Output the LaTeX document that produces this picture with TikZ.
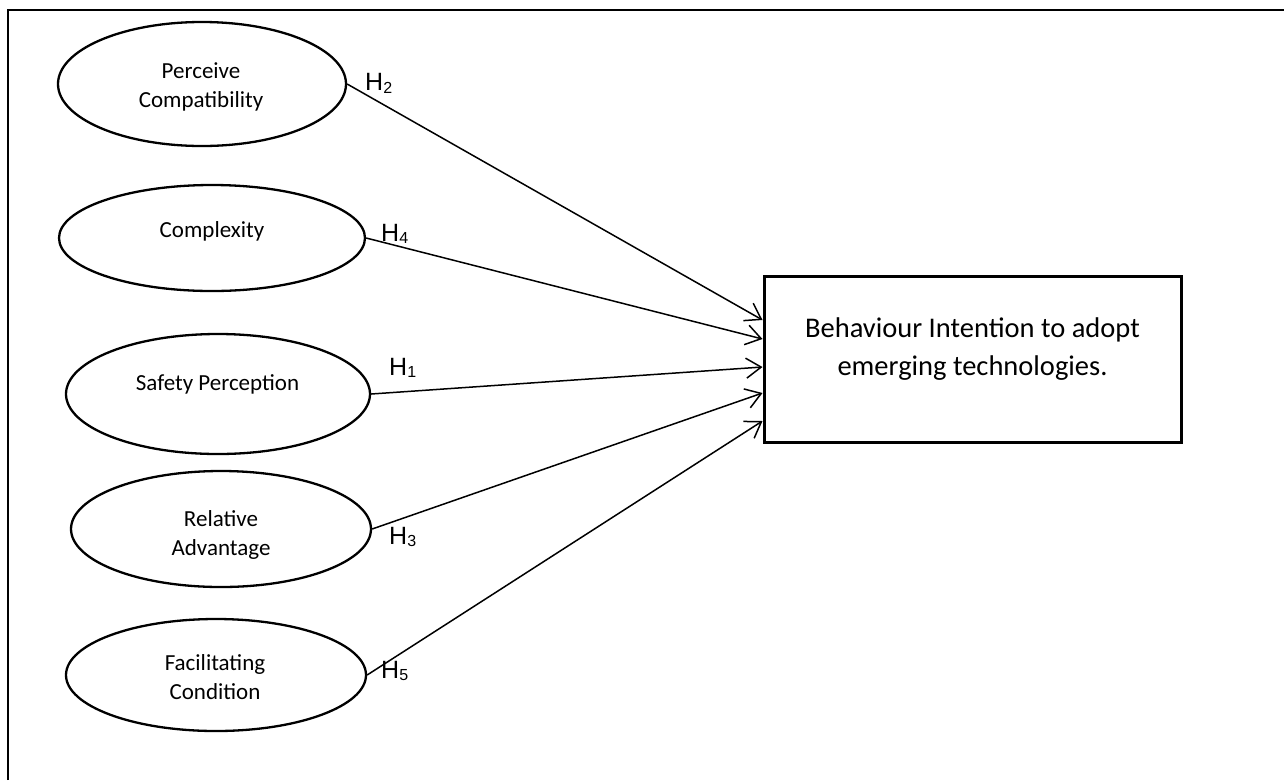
\documentclass[tikz,border=0pt]{standalone}
\usepackage{fontspec}
\setmainfont{Carlito}
\newfontfamily\hfont{Liberation Sans}
\usetikzlibrary{calc,arrows.meta,shapes.geometric}

% lowered, smaller digit after an H label
\newcommand\hsub[1]{\raisebox{-2.5pt}{\fontsize{16}{16}\selectfont #1}}

\begin{document}
\begin{tikzpicture}[x=1pt,y=-1pt,
  oval/.style={draw,ellipse,line width=2.3pt,inner sep=0pt},
  ovaltext/.style={font=\fontsize{23}{29}\selectfont,align=center,inner sep=0pt},
  boxtext/.style={font=\fontsize{28.5}{38}\selectfont,align=center,inner sep=0pt},
  hyp/.style={font=\hfont\fontsize{25}{30}\selectfont,inner sep=0pt,anchor=base west},
  link/.style={line width=1.5pt,-{Straight Barb[length=15pt,width=20pt,line width=1.5pt]}},
]
\useasboundingbox (0,0) rectangle (1284,780);

% frame along the top and left edges
\draw[line width=2.8pt] (8,780) -- (8,10) -- (1284,10);

% constructs
\node[oval,minimum width=288pt,minimum height=124pt] (pc) at (202,84) {};
\node[oval,minimum width=306pt,minimum height=106pt] (cx) at (212,238) {};
\node[oval,minimum width=304pt,minimum height=120pt] (sp) at (218,394) {};
\node[oval,minimum width=300pt,minimum height=116pt] (ra) at (221,529) {};
\node[oval,minimum width=300pt,minimum height=112pt] (fc) at (216,675) {};

\node[ovaltext] (pct) at (201,87) {Perceive\\Compatibility};
\node[ovaltext] (cxt) at (212,231.5) {Complexity};
\node[ovaltext] (spt) at (217.5,384.5) {Safety Perception};
\node[ovaltext] (rat) at (221,534.5) {Relative\\Advantage};
\node[ovaltext] (fct) at (215,677) {Facilitating\\Condition};

% outcome
\node[draw,line width=3pt,minimum width=417pt,minimum height=166pt,inner sep=0pt] (bi) at (972.5,359) {};
\node[boxtext] (bit) at (972.5,349.5) {Behaviour Intention to adopt\\emerging technologies.};

% hypothesised paths
\draw[link] (pc.east) -- ($(bi.west)+(0,-39)$);
\draw[link] (cx.east) -- ($(bi.west)+(0,-20)$);
\draw[link] (sp.east) -- ($(bi.west)+(0,8)$);
\draw[link] (ra.east) -- ($(bi.west)+(0,34)$);
\draw[link] (fc.east) -- ($(bi.west)+(0,62)$);

% hypothesis labels
\node[hyp] (h2) at (365,90.5) {H\hsub{2}};
\node[hyp] (h4) at (381,241) {H\hsub{4}};
\node[hyp] (h1) at (389,375) {H\hsub{1}};
\node[hyp] (h3) at (389,544) {H\hsub{3}};
\node[hyp] (h5) at (381,678) {H\hsub{5}};
\end{tikzpicture}
\end{document}
